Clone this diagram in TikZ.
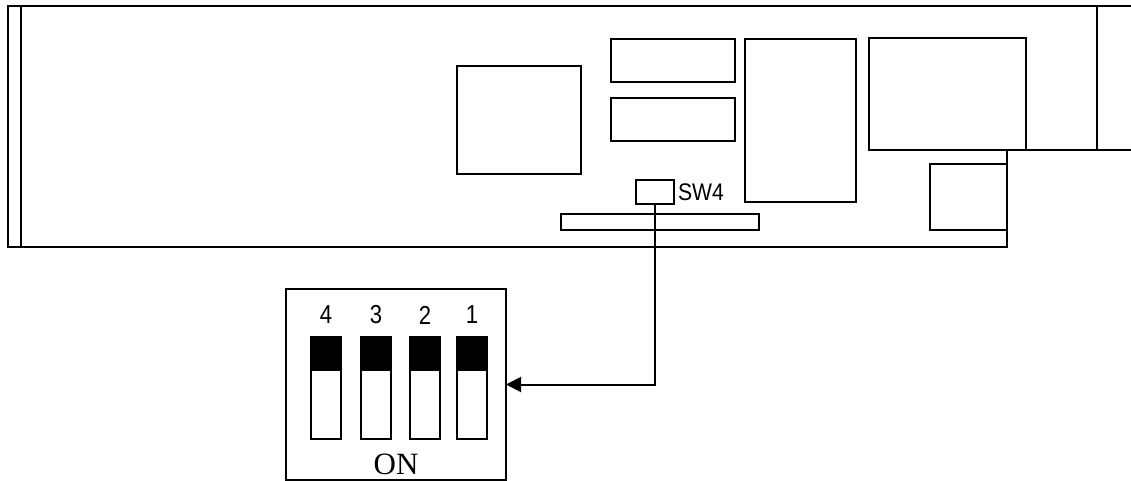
\documentclass[tikz,border=0pt]{standalone}
\usepackage{fontspec}
\setmainfont{Liberation Serif}
\newfontfamily\arial{Liberation Sans}
\usetikzlibrary{arrows.meta,calc}
\begin{document}
\begin{tikzpicture}[x=1pt,y=-1pt,line width=2pt,
  part/.style={draw,line width=2pt,inner sep=0pt,outer sep=0pt,anchor=north west},
  lever/.style={draw,line width=1.8pt},
  digit/.style={font=\arial\fontsize{26}{26}\selectfont,inner sep=0pt},
  conn/.style={line width=2pt,-{Triangle[length=15pt,width=15pt]}}]
\useasboundingbox (0,0) rectangle (1131,481);
% board outline
\draw (1131,6) -- (8,6) -- (8,247) -- (1007,247) -- (1007,150) -- (1131,150);
\draw (21,6) -- (21,247);
\draw (1097,6) -- (1097,150);
% components
\node[part,minimum width=124pt,minimum height=108pt] (ic1) at (457,66) {};
\node[part,minimum width=124pt,minimum height=43pt] (ic2) at (611,39) {};
\node[part,minimum width=124pt,minimum height=43pt] (ic3) at (611,98) {};
\node[part,minimum width=111pt,minimum height=163pt] (ic4) at (745,39) {};
\node[part,minimum width=157pt,minimum height=112pt] (ic5) at (869,38) {};
\node[part,minimum width=77pt,minimum height=66pt] (ic6) at (930,164) {};
\node[part,minimum width=198pt,minimum height=16pt] (edge) at (561,214) {};
\node[part,minimum width=38pt,minimum height=24pt] (sw4) at (636,180) {};
\node[anchor=west,inner sep=0pt,font=\arial\fontsize{24}{24}\selectfont] (sw4lbl) at (677,192) {\scalebox{0.88}[1]{SW4}};
% DIP switch detail
\node[part,minimum width=220pt,minimum height=191pt] (dip) at (286,289) {};
\foreach \x/\n in {311/4,361/3,410/2,457/1}{
  \fill (\x,337) rectangle ++(30,34);
  \draw[lever] (\x,337) rectangle ++(30,102);
  \node[digit] (d\n) at (\x+15,315) {\scalebox{0.85}[1]{\n}};
}
\node[inner sep=0pt,font=\fontsize{31}{31}\selectfont] (on) at (396,464) {ON};
% connector
\draw[conn] (sw4.south) |- (dip.east);
\end{tikzpicture}
\end{document}
